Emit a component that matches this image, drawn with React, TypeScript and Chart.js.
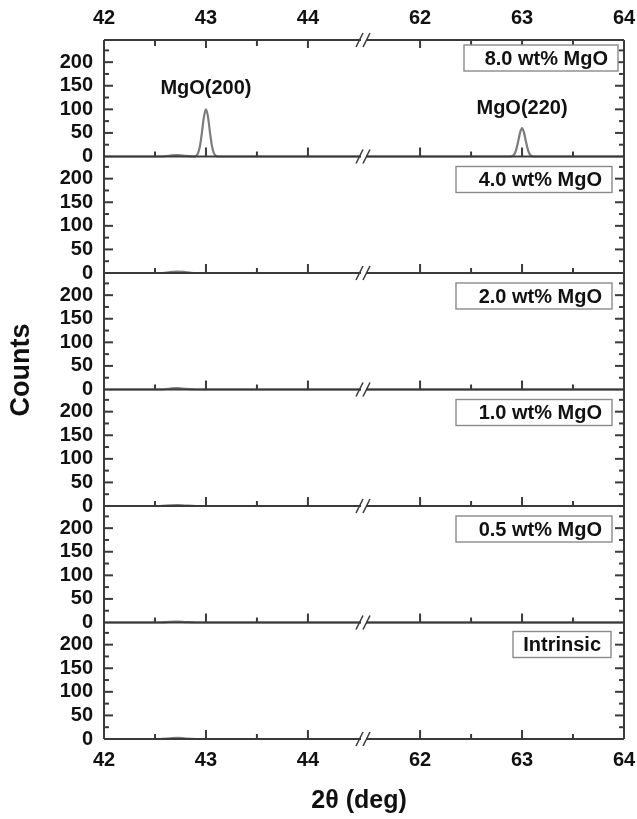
import React, { useEffect, useRef } from "react";
import { Chart, registerables } from "chart.js";

Chart.register(...registerables);

// Broken 2θ axis: left segment 42 → 44.55, right segment 61.45 → 64
const LEFT_END = 44.55;
const RIGHT_START = 61.45;
const X_TICKS = [42, 43, 44, 62, 63, 64];
const X_MINOR = [42.5, 43.5, 62.5, 63.5];
const Y_TICKS = [0, 50, 100, 150, 200];
const Y_MINOR = [25, 75, 125, 175, 225];
const Y_MAX = 247;

const SAMPLES = ["8.0 wt% MgO", "4.0 wt% MgO", "2.0 wt% MgO", "1.0 wt% MgO", "0.5 wt% MgO", "Intrinsic"];

// 8.0 wt% MgO pattern
const LEFT_X_8 = [42.0, 42.55, 42.65, 42.72, 42.8, 42.88, 42.9, 42.92, 42.94, 42.96, 42.98, 43.0, 43.02, 43.04, 43.06, 43.08, 43.1, 43.12, 44.55];
const LEFT_Y_8 = [0, 0, 2, 3, 1.5, 0, 1, 6, 21, 50, 84, 100, 84, 50, 21, 6, 1, 0, 0];
const RIGHT_X_8 = [61.45, 62.88, 62.9, 62.92, 62.94, 62.96, 62.98, 63.0, 63.02, 63.04, 63.06, 63.08, 63.1, 63.12, 64];
const RIGHT_Y_8 = [0, 0, 0.6, 3.6, 12.6, 30, 50, 60, 50, 30, 12.6, 3.6, 0.6, 0, 0];

// lower-doped and intrinsic samples
const LEFT_X_LOW = [42.0, 42.55, 42.65, 42.72, 42.8, 42.9, 44.55];
const LEFT_Y_4 = [0, 0, 2, 3, 2, 0, 0];
const LEFT_Y_2 = [0, 0, 2, 3, 1.5, 0, 0];
const LEFT_Y_1 = [0, 0, 1.5, 2, 1, 0, 0];
const LEFT_Y_05 = [0, 0, 1.5, 2, 1, 0, 0];
const LEFT_Y_INT = [0, 0, 1.5, 2.5, 1, 0, 0];
const RIGHT_X_LOW = [61.45, 64];
const RIGHT_Y_LOW = [0, 0];

const PANELS = [
  { lx: LEFT_X_8, ly: LEFT_Y_8, rx: RIGHT_X_8, ry: RIGHT_Y_8 },
  { lx: LEFT_X_LOW, ly: LEFT_Y_4, rx: RIGHT_X_LOW, ry: RIGHT_Y_LOW },
  { lx: LEFT_X_LOW, ly: LEFT_Y_2, rx: RIGHT_X_LOW, ry: RIGHT_Y_LOW },
  { lx: LEFT_X_LOW, ly: LEFT_Y_1, rx: RIGHT_X_LOW, ry: RIGHT_Y_LOW },
  { lx: LEFT_X_LOW, ly: LEFT_Y_05, rx: RIGHT_X_LOW, ry: RIGHT_Y_LOW },
  { lx: LEFT_X_LOW, ly: LEFT_Y_INT, rx: RIGHT_X_LOW, ry: RIGHT_Y_LOW },
];

const PEAK_LABELS = [
  { text: "MgO(200)", x: 43.0, y: 145 },
  { text: "MgO(220)", x: 63.0, y: 102 },
];

const LEFT_SPAN = LEFT_END - 42;
const AXIS_END = LEFT_SPAN + (64 - RIGHT_START);

function toPos(deg: number): number {
  return deg <= LEFT_END ? deg - 42 : deg - RIGHT_START + LEFT_SPAN;
}
function toDeg(pos: number): number {
  return pos <= LEFT_SPAN + 1e-6 ? pos + 42 : pos - LEFT_SPAN + RIGHT_START;
}

// sample label boxes: [right offset from plot edge, width, top offset in panel, height]
const BOXES = [
  [6, 154, 5, 26],
  [12, 156, 10, 26],
  [12, 156, 10, 26],
  [12, 156, 10, 26],
  [12, 156, 10, 26],
  [13, 98, 9, 26],
];

const FONT = '"Liberation Sans", Arial, Helvetica, sans-serif';
const AXIS_COLOR = "#3a3a3a";

const framePlugin = {
  id: "panelFrame",
  afterDatasetsDraw(chart: any) {
    const ctx = chart.ctx as CanvasRenderingContext2D;
    const area = chart.chartArea;
    const xs = chart.scales.x;
    const panels = SAMPLES.map((_, i) => chart.scales["p" + i]);
    ctx.save();
    ctx.strokeStyle = AXIS_COLOR;
    ctx.lineWidth = 2;
    ctx.lineCap = "butt";

    const line = (x1: number, y1: number, x2: number, y2: number) => {
      ctx.beginPath();
      ctx.moveTo(x1, y1);
      ctx.lineTo(x2, y2);
      ctx.stroke();
    };

    // outer frame and panel baselines
    line(area.left, area.top, area.left, area.bottom);
    line(area.right, area.top, area.right, area.bottom);
    line(area.left, area.top, area.right, area.top);
    const hLines: number[] = [area.top];
    panels.forEach((s: any) => {
      const y0 = s.getPixelForValue(0);
      line(area.left, y0, area.right, y0);
      hLines.push(y0);
    });

    // inward y ticks, both sides
    panels.forEach((s: any) => {
      Y_TICKS.forEach((v) => {
        if (v === 0) return;
        const y = s.getPixelForValue(v);
        line(area.left, y, area.left + 9, y);
        line(area.right, y, area.right - 9, y);
      });
      Y_MINOR.forEach((v) => {
        const y = s.getPixelForValue(v);
        line(area.left, y, area.left + 5, y);
        line(area.right, y, area.right - 5, y);
      });
    });

    // x ticks: upward on each baseline, downward on top border
    const major = X_TICKS.filter((d) => d !== 42 && d !== 64).map((d) => xs.getPixelForValue(toPos(d)));
    const minor = X_MINOR.map((d) => xs.getPixelForValue(toPos(d)));
    major.forEach((x) => line(x, area.top, x, area.top + 8));
    minor.forEach((x) => line(x, area.top, x, area.top + 6));
    panels.forEach((s: any) => {
      const y0 = s.getPixelForValue(0);
      major.forEach((x) => line(x, y0, x, y0 - 9));
      minor.forEach((x) => line(x, y0, x, y0 - 5));
    });

    // axis break marks
    const bx = xs.getPixelForValue(LEFT_SPAN);
    ctx.lineWidth = 1.6;
    hLines.forEach((y) => {
      ctx.fillStyle = "#ffffff";
      ctx.fillRect(bx - 3, y - 2, 5, 4);
      line(bx - 8, y + 7, bx - 1, y - 7);
      line(bx - 1, y + 7, bx + 6, y - 7);
    });

    // sample label boxes
    ctx.font = `bold 20px ${FONT}`;
    ctx.textAlign = "right";
    ctx.textBaseline = "middle";
    panels.forEach((s: any, i: number) => {
      const [ro, w, to, h] = BOXES[i];
      const right = area.right - ro;
      const top = s.top + to;
      ctx.fillStyle = "#ffffff";
      ctx.fillRect(right - w, top, w, h);
      ctx.strokeStyle = "#8a8a8a";
      ctx.lineWidth = 1.4;
      ctx.strokeRect(right - w, top, w, h);
      ctx.fillStyle = "#111111";
      ctx.fillText(SAMPLES[i], right - 10, top + h / 2 + 1);
    });

    // peak labels in the top panel
    ctx.textAlign = "center";
    ctx.textBaseline = "middle";
    PEAK_LABELS.forEach((p) => {
      ctx.fillText(p.text, xs.getPixelForValue(toPos(p.x)), panels[0].getPixelForValue(p.y));
    });

    // axis titles
    ctx.font = `bold 25px ${FONT}`;
    ctx.fillText("2θ (deg)", 359, 801);
    ctx.font = `bold 27px ${FONT}`;
    ctx.translate(22, 370);
    ctx.rotate(-Math.PI / 2);
    ctx.fillText("Counts", 0, 0);
    ctx.restore();
  },
};

export default function App() {
  const ref = useRef<HTMLCanvasElement | null>(null);

  useEffect(() => {
    if (!ref.current) return;

    const datasets = PANELS.map((p, i) => {
      const pts: { x: number; y: number | null }[] = [];
      p.lx.forEach((d, k) => pts.push({ x: toPos(d), y: p.ly[k] }));
      pts.push({ x: LEFT_SPAN + 0.001, y: null });
      p.rx.forEach((d, k) => pts.push({ x: toPos(d) + (k === 0 ? 0.002 : 0), y: p.ry[k] }));
      return {
        label: SAMPLES[i],
        data: pts,
        yAxisID: "p" + i,
        xAxisID: "x",
        borderColor: "#7c7c7c",
        borderWidth: 2.2,
        pointRadius: 0,
        cubicInterpolationMode: "monotone" as const,
        spanGaps: false,
        clip: false as any,
      };
    });

    const tickFont = { family: FONT, size: 20, weight: "bold" as const };

    const xCommon = {
      type: "linear" as const,
      min: 0,
      max: AXIS_END,
      grid: { display: false, drawTicks: false },
      border: { display: false },
      afterBuildTicks: (s: any) => {
        s.ticks = X_TICKS.map((d) => ({ value: toPos(d) }));
      },
    };

    const scales: any = {
      x: {
        ...xCommon,
        position: "bottom",
        ticks: {
          font: tickFont,
          color: "#111",
          padding: 9,
          maxRotation: 0,
          autoSkip: false,
          callback: (v: any) => String(Math.round(toDeg(Number(v)))),
        },
        afterFit: (s: any) => {
          s.height = 80;
          s.paddingLeft = 0;
          s.paddingRight = 0;
        },
      },
      xTop: {
        ...xCommon,
        position: "top",
        ticks: {
          font: tickFont,
          color: "#111",
          padding: 10,
          maxRotation: 0,
          autoSkip: false,
          callback: (v: any) => String(Math.round(toDeg(Number(v)))),
        },
        afterFit: (s: any) => {
          s.height = 40;
          s.paddingLeft = 0;
          s.paddingRight = 0;
        },
      },
    };

    // stacked panel axes; the layout stacks the last-declared one on top
    for (let i = SAMPLES.length - 1; i >= 0; i--) {
      scales["p" + i] = {
        type: "linear",
        position: "left",
        stack: "panels",
        stackWeight: 1,
        min: 0,
        max: Y_MAX,
        grid: { display: false, drawTicks: false },
        border: { display: false },
        ticks: { font: tickFont, color: "#111", padding: 11, autoSkip: false },
        afterBuildTicks: (s: any) => {
          s.ticks = Y_TICKS.map((v) => ({ value: v }));
        },
        afterFit: (s: any) => {
          s.width = 104;
          s.paddingTop = 0;
          s.paddingBottom = 0;
        },
      };
    }

    const chart = new Chart(ref.current, {
      type: "line",
      data: { datasets: datasets as any },
      options: {
        responsive: false,
        animation: false,
        layout: { padding: { left: 0, right: 13, top: 0, bottom: 0 } },
        plugins: { legend: { display: false }, tooltip: { enabled: false } },
        scales,
      },
      plugins: [framePlugin],
    });

    return () => chart.destroy();
  }, []);

  return (
    <div style={{ position: "absolute", left: 0, top: 0, width: 637, height: 819, background: "#fff" }}>
      <canvas ref={ref} width={637} height={819} />
    </div>
  );
}
